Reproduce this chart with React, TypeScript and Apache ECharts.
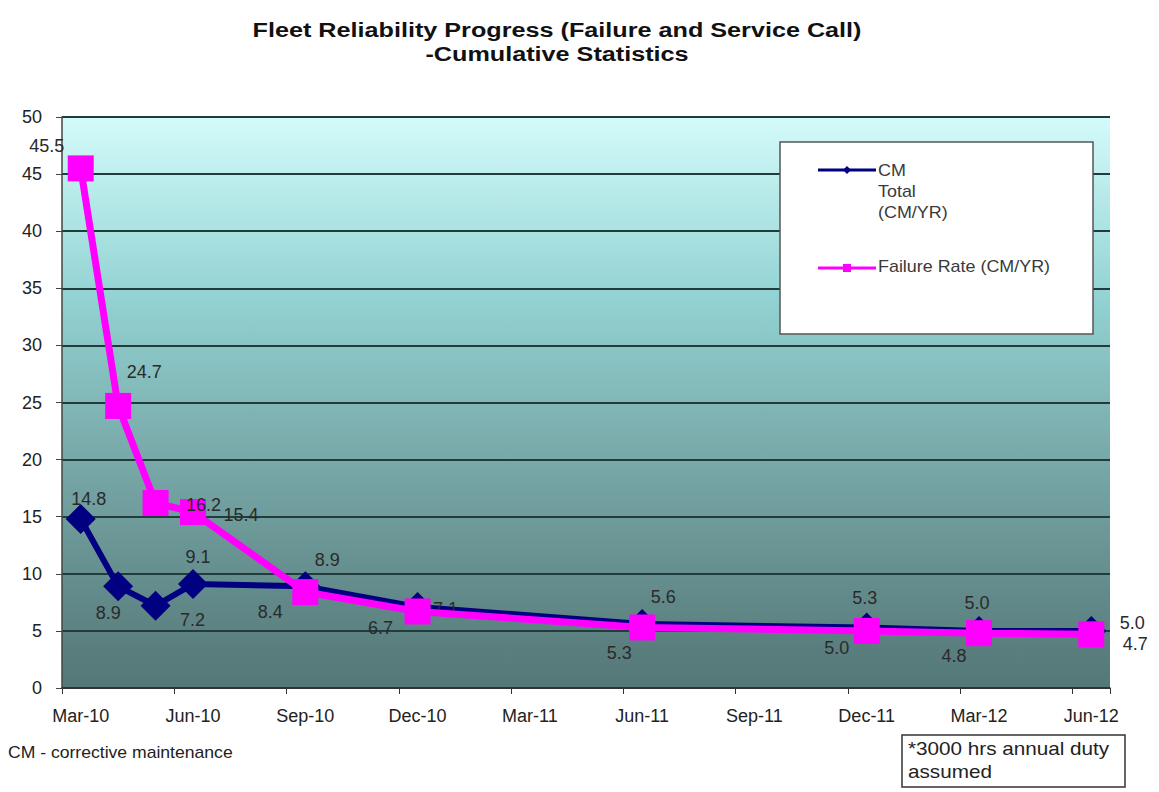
import React, { useEffect, useRef } from "react";
import * as echarts from "echarts";

const months = [
  "Mar-10", "Apr-10", "May-10", "Jun-10", "Jul-10", "Aug-10", "Sep-10", "Oct-10", "Nov-10", "Dec-10",
  "Jan-11", "Feb-11", "Mar-11", "Apr-11", "May-11", "Jun-11", "Jul-11", "Aug-11", "Sep-11", "Oct-11",
  "Nov-11", "Dec-11", "Jan-12", "Feb-12", "Mar-12", "Apr-12", "May-12", "Jun-12",
];
const pointMonths = ["Mar-10", "Apr-10", "May-10", "Jun-10", "Sep-10", "Dec-10", "Jun-11", "Dec-11", "Mar-12", "Jun-12"];
const cmTotal = [14.8, 8.9, 7.2, 9.1, 8.9, 7.1, 5.6, 5.3, 5.0, 5.0];
const failureRate = [45.5, 24.7, 16.2, 15.4, 8.4, 6.7, 5.3, 5.0, 4.8, 4.7];
const yTicks = { min: 0, max: 50, interval: 5 };

// label offsets (style only)
const cmLabelOffsets = [[8, -20], [-10, 27], [37, 14], [5, -27], [22, -26], [28, 2], [21, -27], [-2, -29], [-2, -28], [41, -8]];
const frLabelOffsets = [[-34, -22], [26, -34], [48, 2], [48, 3], [-35, 20], [-37, 17], [-23, 26], [-30, 17], [-25, 23], [44, 10]];

const FONT = "'Liberation Sans', Arial, sans-serif";

function buildSeriesData(values: number[], offsets: number[][], extra: any = {}) {
  const arr: any[] = months.map(() => null);
  pointMonths.forEach((m, i) => {
    const idx = months.indexOf(m);
    arr[idx] = {
      value: values[i],
      label: { offset: offsets[i] },
      ...extra,
    };
  });
  return arr;
}

export default function App() {
  const ref = useRef<HTMLDivElement>(null);
  useEffect(() => {
    document.body.style.margin = "0";
    const chart = echarts.init(ref.current!, null, { renderer: "svg" });
    const labelBase = {
      show: true,
      position: "inside",
      fontFamily: FONT,
      fontSize: 18,
      color: "#2a2a2a",
      formatter: (p: any) => (p.value == null ? "" : Number(p.value).toFixed(1)),
    };
    chart.setOption({
      animation: false,
      backgroundColor: "#ffffff",
      grid: {
        left: 62,
        right: 49,
        top: 117,
        bottom: 104,
        show: true,
        borderWidth: 0,
        backgroundColor: new echarts.graphic.LinearGradient(0, 0, 0, 1, [
          { offset: 0, color: "#d4fbfb" },
          { offset: 0.32, color: "#92d2d2" },
          { offset: 0.58, color: "#7aabab" },
          { offset: 0.93, color: "#5a7e7e" },
          { offset: 1, color: "#557777" },
        ]),
      },
      xAxis: {
        type: "category",
        data: months,
        boundaryGap: true,
        axisLine: { show: true, lineStyle: { color: "#333", width: 1.5 } },
        axisTick: { show: true, interval: 2, length: 6, lineStyle: { color: "#333" } },
        axisLabel: {
          interval: 2,
          margin: 19,
          fontFamily: FONT,
          fontSize: 18,
          color: "#222",
        },
        splitLine: { show: false },
      },
      yAxis: {
        type: "value",
        min: yTicks.min,
        max: yTicks.max,
        interval: yTicks.interval,
        axisLine: { show: true, lineStyle: { color: "#444", width: 1.5 } },
        axisTick: { show: true, length: 6, lineStyle: { color: "#444" } },
        axisLabel: {
          margin: 20,
          fontFamily: FONT,
          fontSize: 18,
          color: "#222",
        },
        splitLine: { show: true, lineStyle: { color: "#223b3b", width: 1.8 } },
      },
      series: [
        {
          name: "CM Total (CM/YR)",
          type: "line",
          data: buildSeriesData(cmTotal, cmLabelOffsets, { symbol: "diamond", symbolSize: 30 }),
          connectNulls: true,
          symbol: "diamond",
          symbolSize: 30,
          showSymbol: true,
          showAllSymbol: true,
          lineStyle: { color: "#000080", width: 6 },
          itemStyle: { color: "#000080" },
          label: labelBase,
          z: 3,
        },
        {
          name: "Failure Rate (CM/YR)",
          type: "line",
          data: buildSeriesData(failureRate, frLabelOffsets),
          connectNulls: true,
          symbol: "rect",
          symbolSize: 26,
          showAllSymbol: true,
          lineStyle: { color: "#ff00ff", width: 7 },
          itemStyle: { color: "#ff00ff" },
          label: labelBase,
          z: 4,
        },
      ],
      graphic: [
        {
          type: "text",
          x: 557,
          y: 18,
          scaleX: 1.2,
          style: {
            text: "Fleet Reliability Progress (Failure and Service Call)\n-Cumulative Statistics",
            font: `bold 21px ${FONT}`,
            lineHeight: 24,
            align: "center",
            fill: "#111",
          },
        },
        {
          type: "rect",
          shape: { x: 780, y: 142, width: 313, height: 192 },
          style: { fill: "#ffffff", stroke: "#555", lineWidth: 1.5 },
          z: 100,
        },
        {
          type: "line",
          shape: { x1: 818, y1: 170, x2: 876, y2: 170 },
          style: { stroke: "#000080", lineWidth: 3 },
          z: 101,
        },
        {
          type: "polygon",
          shape: { points: [[847, 166], [851, 170], [847, 174], [843, 170]] },
          style: { fill: "#000080" },
          z: 102,
        },
        {
          type: "text",
          x: 878,
          y: 160,
          scaleX: 1.12,
          style: {
            text: "CM\nTotal\n(CM/YR)",
            font: `16px ${FONT}`,
            lineHeight: 21,
            fill: "#3a3a3a",
          },
          z: 101,
        },
        {
          type: "line",
          shape: { x1: 818, y1: 268, x2: 876, y2: 268 },
          style: { stroke: "#ff00ff", lineWidth: 3 },
          z: 101,
        },
        {
          type: "rect",
          shape: { x: 843, y: 264, width: 8, height: 8 },
          style: { fill: "#ff00ff" },
          z: 102,
        },
        {
          type: "text",
          x: 878,
          y: 259,
          scaleX: 1.12,
          style: {
            text: "Failure Rate (CM/YR)",
            font: `16px ${FONT}`,
            fill: "#3a3a3a",
          },
          z: 101,
        },
        {
          type: "text",
          x: 8,
          y: 745,
          scaleX: 1.1,
          style: {
            text: "CM - corrective maintenance",
            font: `16px ${FONT}`,
            fill: "#222",
          },
        },
        {
          type: "rect",
          shape: { x: 902, y: 735, width: 223, height: 52 },
          style: { fill: "#ffffff", stroke: "#333", lineWidth: 1.5 },
        },
        {
          type: "text",
          x: 908,
          y: 737,
          scaleX: 1.15,
          style: {
            text: "*3000 hrs annual duty\nassumed",
            font: `18px ${FONT}`,
            lineHeight: 23,
            fill: "#222",
          },
        },
      ],
    });
    return () => chart.dispose();
  }, []);
  return <div ref={ref} style={{ width: 1159, height: 792 }} />;
}
